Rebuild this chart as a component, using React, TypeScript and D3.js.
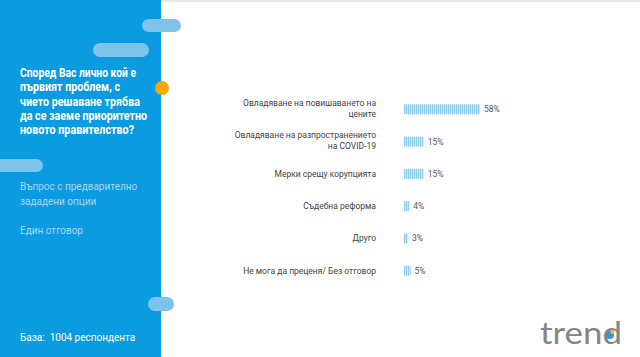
import React from "react";
import * as d3 from "d3";

const categories: string[][] = [
  ["Овладяване на повишаването на", "цените"],
  ["Овладяване на разпространението", "на COVID-19"],
  ["Мерки срещу корупцията"],
  ["Съдебна реформа"],
  ["Друго"],
  ["Не мога да преценя/ Без отговор"],
];
const values: number[] = [58, 15, 15, 4, 3, 5];
const titleLines: string[] = [
  "Според Вас лично кой е",
  "първият проблем, с",
  "чието решаване трябва",
  "да се заеме приоритетно",
  "новото правителство?",
];
const titleWidths: number[] = [116, 100, 120, 127, 114];
const noteLines: string[] = ["Въпрос с предварително", "зададени опции"];
const answerNote = "Един отговор";
const baseNote = "База:\u00a0 1004 респондента";

const W = 640;
const H = 357;

export default function App() {
  const x = d3.scaleLinear().domain([0, 58]).range([404, 480]);
  const y = d3
    .scaleBand<number>()
    .domain(d3.range(categories.length))
    .range([93, 287])
    .paddingInner(0.69)
    .paddingOuter(0.35);
  const barH = y.bandwidth();

  return (
    <div style={{ position: "fixed", left: 0, top: 0 }}>
      <svg width={W} height={H} style={{ display: "block", fontFamily: "Roboto, sans-serif" }}>
        <defs>
          <pattern id="stripes" width={2} height={10} patternUnits="userSpaceOnUse">
            <rect x={0} y={0} width={2} height={10} fill="#e6f4fb" />
            <rect x={0} y={0} width={1.3} height={10} fill="#8fcbea" />
          </pattern>
        </defs>
        <rect x={0} y={0} width={W} height={H} fill="#ffffff" />
        <rect x={0} y={0} width={W} height={2} fill="#e8e8e8" />
        {/* left panel */}
        <rect x={0} y={0} width={161} height={H} fill="#0b9be0" />
        {/* pills */}
        <rect x={142} y={19} width={39} height={13} rx={6.5} fill="#7dc3ec" />
        <rect x={93} y={43} width={56} height={14} rx={7} fill="#7dc3ec" />
        <rect x={-10} y={159} width={53} height={13} rx={6.5} fill="#7dc3ec" />
        <rect x={148} y={297} width={26} height={14} rx={7} fill="#7dc3ec" />
        <circle cx={162} cy={88} r={7} fill="#f7a800" />
        {/* title */}
        {titleLines.map((t, i) => (
          <text
            key={i}
            x={20}
            y={77 + i * 14.3}
            fill="#ffffff"
            fontWeight="bold"
            fontSize={13}
            textLength={titleWidths[i]}
            lengthAdjust="spacingAndGlyphs"
          >
            {t}
          </text>
        ))}
        {noteLines.map((t, i) => (
          <text key={i} x={20} y={190 + i * 15} fill="#a9d6f2" fontSize={10}>
            {t}
          </text>
        ))}
        <text x={20} y={234} fill="#a9d6f2" fontSize={10}>
          {answerNote}
        </text>
        <text x={20} y={341} fill="#ffffff" fontSize={10}>
          {baseNote}
        </text>
        {/* bars */}
        {values.map((v, i) => {
          const yc = (y(i) as number) + barH / 2;
          const lines = categories[i];
          return (
            <g key={i}>
              <rect x={x(0)} y={y(i)} width={x(v) - x(0)} height={barH} fill="url(#stripes)" />
              <text x={x(v) + 4} y={yc + 3} fontSize={8.5} fill="#555">
                {v}%
              </text>
              {lines.map((l, j) => (
                <text
                  key={j}
                  x={376}
                  y={yc + 3 + (j - (lines.length - 1) / 2) * 11 - (lines.length > 1 ? 1 : 0)}
                  textAnchor="end"
                  fontSize={8.5}
                  fill="#444"
                >
                  {l}
                </text>
              ))}
            </g>
          );
        })}
        {/* logo */}
        <text
          x={540}
          y={344}
          fontSize={30}
          fill="#858585"
          fontFamily="Lato, sans-serif"
          textLength={82}
          lengthAdjust="spacingAndGlyphs"
        >
          trend
        </text>
        <circle cx={610} cy={335} r={4} fill="#2a9ad8" />
        <circle cx={612.5} cy={332} r={2} fill="#f7c400" />
      </svg>
    </div>
  );
}
